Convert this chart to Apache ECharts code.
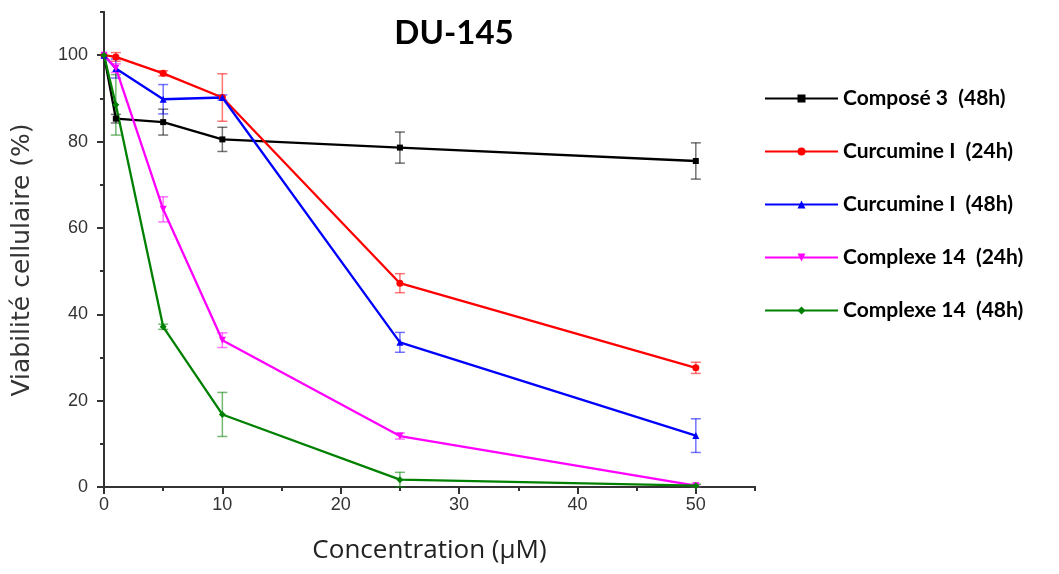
<!DOCTYPE html>
<html>
<head>
<meta charset="utf-8">
<script src="https://cdn.jsdelivr.net/npm/echarts@6/dist/echarts.min.js"></script>
<style>html,body{margin:0;padding:0;background:#fff}#c{width:1059px;height:574px}</style>
</head>
<body>
<div id="c"></div>
<script>
const concentrations = [0, 1, 5, 10, 25, 50];
const seriesNames = ['Composé 3  (48h)', 'Curcumine I  (24h)', 'Curcumine I  (48h)', 'Complexe 14  (24h)', 'Complexe 14  (48h)'];
const compose3_48 = [100, 85.3, 84.5, 80.5, 78.6, 75.5];
const compose3_48_err = [0, 1, 3, 2.8, 3.6, 4.2];
const curcumine_24 = [100, 99.6, 95.8, 90.2, 47.2, 27.6];
const curcumine_24_err = [0, 1, 0.6, 5.5, 2.2, 1.3];
const curcumine_48 = [100, 96.9, 89.8, 90.2, 33.5, 11.9];
const curcumine_48_err = [0, 2.2, 3.4, 0.6, 2.3, 3.9];
const complexe_24 = [100, 97, 64.3, 34, 11.8, 0.3];
const complexe_24_err = [0, 1, 2.9, 1.7, 0.7, 0.3];
const complexe_48 = [100, 88.5, 37.1, 16.8, 1.7, 0.3];
const complexe_48_err = [0, 7, 0.6, 5.1, 1.7, 0.3];
const colors = ['#000000', '#ff0000', '#0000ff', '#ff00ff', '#008000'];
const symbols = ['rect', 'circle', 'triangle', 'path://M0,0 L10,0 L5,9 Z', 'diamond'];
const values = [compose3_48, curcumine_24, curcumine_48, complexe_24, complexe_48];
const errors = [compose3_48_err, curcumine_24_err, curcumine_48_err, complexe_24_err, complexe_48_err];
const yTicksMajor = 20, yTicksMinor = 10, xTicksMajor = 10, xTicksMinor = 5;

const chart = echarts.init(document.getElementById('c'), null, {renderer: 'canvas'});
const series = [];
values.forEach((vals, i) => {
  series.push({
    name: seriesNames[i], type: 'line', xAxisIndex: 0, yAxisIndex: 0,
    data: concentrations.map((x, j) => [x, vals[j]]),
    symbol: symbols[i], symbolSize: i === 0 ? 6 : 7, showSymbol: true,
    lineStyle: {color: colors[i], width: 2.3}, itemStyle: {color: colors[i]},
    z: 3, animation: false
  });
});
values.forEach((vals, i) => {
  series.push({
    type: 'custom', xAxisIndex: 0, yAxisIndex: 0, z: 2, animation: false, silent: true,
    data: concentrations.map((x, j) => [x, vals[j], errors[i][j]]).filter(d => d[2] > 0),
    renderItem: function (params, api) {
      const x = api.value(0), y = api.value(1), e = api.value(2);
      const hi = api.coord([x, y + e]), lo = api.coord([x, y - e]);
      const w = 5;
      const st = {stroke: colors[i], lineWidth: 1.5, opacity: 0.55};
      return {type: 'group', children: [
        {type: 'line', shape: {x1: hi[0], y1: hi[1], x2: lo[0], y2: lo[1]}, style: st},
        {type: 'line', shape: {x1: hi[0] - w, y1: hi[1], x2: hi[0] + w, y2: hi[1]}, style: st},
        {type: 'line', shape: {x1: lo[0] - w, y1: lo[1], x2: lo[0] + w, y2: lo[1]}, style: st}
      ]};
    }
  });
});

const axisLineStyle = {color: '#333', width: 2};
chart.setOption({
  animation: false,
  title: {text: 'DU-145', left: 449, top: 12, textAlign: 'center',
    textStyle: {fontFamily: 'Lato', fontWeight: 'bold', fontSize: 33, color: '#000'}},
  grid: {left: 104, right: 304, top: 12, bottom: 87, containLabel: false},
  legend: {
    orient: 'vertical', left: 759, top: 83, itemWidth: 73, itemHeight: 10, itemGap: 32,
    data: seriesNames,
    textStyle: {fontFamily: 'Lato', fontWeight: 'bold', fontSize: 21, color: '#000'},
    selectedMode: false
  },
  graphic: [{
    type: 'text', x: 22, y: 260, rotation: Math.PI / 2,
    style: {text: 'Viabilité cellulaire (%)', fontFamily: 'DejaVu Sans', fontSize: 25, fill: '#333',
      align: 'center', verticalAlign: 'middle'}
  }],
  xAxis: [
    {type: 'value', min: 0, max: 55, interval: xTicksMinor, position: 'bottom',
      axisLine: {lineStyle: axisLineStyle}, axisTick: {length: 4, lineStyle: axisLineStyle},
      axisLabel: {show: false}, splitLine: {show: false}},
    {type: 'value', min: 0, max: 55, interval: xTicksMajor, position: 'bottom', gridIndex: 0,
      name: 'Concentration (µM)', nameLocation: 'middle', nameGap: 51,
      nameTextStyle: {fontFamily: 'Open Sans', fontSize: 26, color: '#222'},
      axisLine: {lineStyle: axisLineStyle}, axisTick: {length: 7, lineStyle: axisLineStyle},
      axisLabel: {fontFamily: 'Liberation Sans', fontSize: 18, color: '#333', margin: 9, showMaxLabel: false},
      splitLine: {show: false}}
  ],
  yAxis: [
    {type: 'value', min: 0, max: 110, interval: yTicksMinor,
      axisLine: {show: true, lineStyle: axisLineStyle}, axisTick: {show: true, length: 4, lineStyle: axisLineStyle},
      axisLabel: {show: false}, splitLine: {show: false}},
    {type: 'value', min: 0, max: 110, interval: yTicksMajor, position: 'left',
      axisLine: {show: true, lineStyle: axisLineStyle}, axisTick: {show: true, length: 7, lineStyle: axisLineStyle},
      axisLabel: {fontFamily: 'Liberation Sans', fontSize: 18, color: '#333', margin: 16, showMaxLabel: false},
      splitLine: {show: false}}
  ],
  series: series
});
</script>
</body>
</html>
